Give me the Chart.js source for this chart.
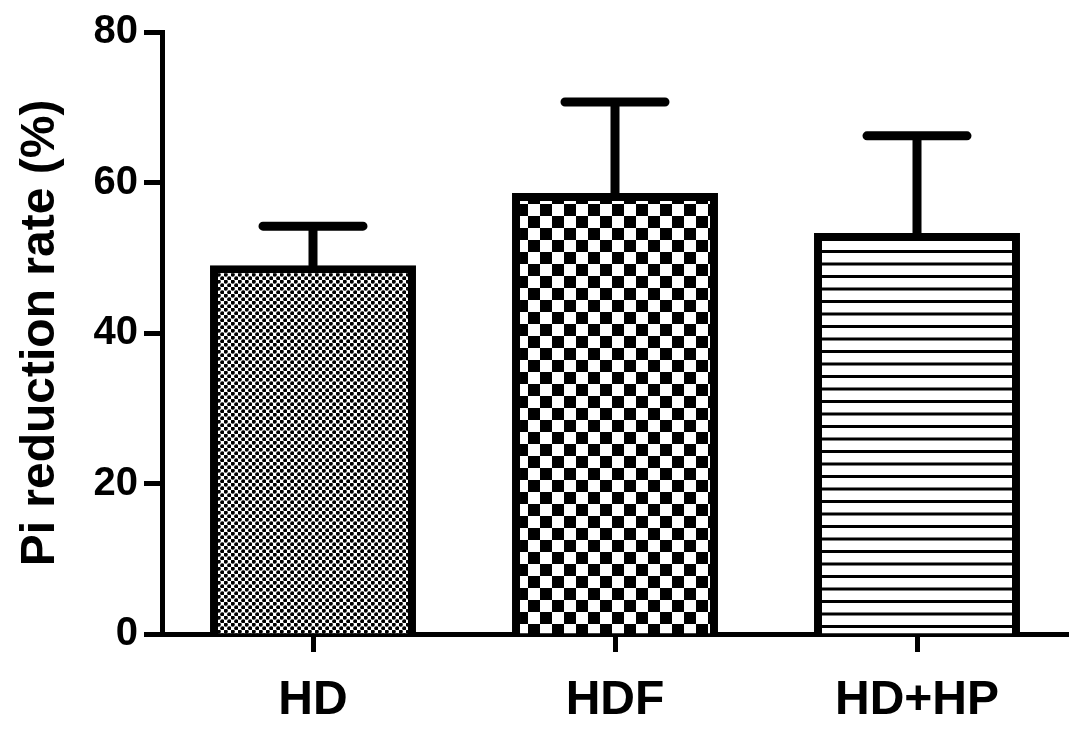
<!DOCTYPE html>
<html>
<head>
<meta charset="utf-8">
<title>Pi reduction rate</title>
<script src="https://cdn.jsdelivr.net/npm/chart.js"></script>
<style>
  html, body { margin: 0; padding: 0; background: #fff; }
  #wrap { width: 1087px; height: 746px; position: relative; }
</style>
</head>
<body>
<div id="wrap"><canvas id="pi-chart"></canvas></div>
<script>
// ---- data ----
const groups = ['HD', 'HDF', 'HD+HP'];
const meanRate = [49.0, 58.6, 53.3];   // bar height (%)
const sdRate = [5.2, 12.1, 12.9];      // upper error bar (%)
const yTicks = [0, 20, 40, 60, 80];

// ---- fill patterns (fine dots, checkerboard, horizontal stripes) ----
function tile(w, h, draw) {
    const c = document.createElement('canvas');
    c.width = w; c.height = h;
    const g = c.getContext('2d');
    g.fillStyle = '#fff';
    g.fillRect(0, 0, w, h);
    g.fillStyle = '#000';
    draw(g);
    return c;
}

function makePatterns(ctx) {
    const dots = tile(7, 7, g => {
        g.beginPath(); g.arc(1.75, 1.75, 2.1, 0, Math.PI * 2); g.fill();
        g.beginPath(); g.arc(5.25, 5.25, 2.1, 0, Math.PI * 2); g.fill();
    });
    const checker = tile(24, 24, g => {
        g.fillRect(0, 0, 12, 12);
        g.fillRect(12, 12, 12, 12);
    });
    const stripes = tile(4, 25, g => {
        g.fillRect(0, 0, 4, 3);
        g.fillRect(0, 12.5, 4, 3);
    });
    return [dots, checker, stripes].map(t => ctx.createPattern(t, 'repeat'));
}

// ---- error bars drawn from sdRate through the y scale ----
const errorBars = {
    id: 'errorBars',
    afterDatasetsDraw(chart) {
        const { ctx, scales: { y } } = chart;
        const bars = chart.getDatasetMeta(0).data;
        ctx.save();
        ctx.strokeStyle = '#000';
        ctx.lineWidth = 9;
        ctx.lineCap = 'round';
        bars.forEach((bar, i) => {
            const top = y.getPixelForValue(meanRate[i] + sdRate[i]);
            ctx.beginPath();
            ctx.moveTo(bar.x, bar.y);
            ctx.lineTo(bar.x, top);
            ctx.moveTo(bar.x - 50, top);
            ctx.lineTo(bar.x + 50, top);
            ctx.stroke();
        });
        ctx.restore();
    }
};

const canvas = document.getElementById('pi-chart');
const ctx = canvas.getContext('2d');

Chart.defaults.font.family = '"Liberation Sans", Arial, Helvetica, sans-serif';
Chart.defaults.font.weight = 'bold';
Chart.defaults.color = '#000';

new Chart(ctx, {
    type: 'bar',
    data: {
        labels: groups,
        datasets: [{
            data: meanRate,
            backgroundColor: makePatterns(ctx),
            borderColor: '#000',
            borderWidth: 8,
            barPercentage: 0.682,
            categoryPercentage: 1
        }]
    },
    options: {
        responsive: true,
        maintainAspectRatio: false,
        animation: false,
        layout: { padding: { top: 32, right: 19, left: 0, bottom: 0 } },
        plugins: {
            legend: { display: false },
            tooltip: { enabled: false }
        },
        scales: {
            x: {
                z: 1,
                offset: true,
                afterFit: s => { s.height = 112; },
                grid: {
                    offset: false,
                    drawOnChartArea: false,
                    tickLength: 18,
                    tickWidth: 5,
                    tickColor: '#000'
                },
                border: { display: true, color: '#000', width: 5 },
                ticks: { padding: 20, color: '#000', font: { size: 48, weight: 'bold' } }
            },
            y: {
                min: 0,
                max: 80,
                afterFit: s => { s.width = 162; },
                afterBuildTicks: s => { s.ticks = yTicks.map(v => ({ value: v })); },
                grid: {
                    drawOnChartArea: false,
                    tickLength: 18,
                    tickWidth: 5,
                    tickColor: '#000'
                },
                border: { display: true, color: '#000', width: 5 },
                ticks: { padding: 6, color: '#000', font: { size: 40, weight: 'bold' } },
                title: {
                    display: true,
                    text: 'Pi reduction rate (%)',
                    color: '#000',
                    padding: { top: 12, bottom: 0 },
                    font: { size: 48, weight: 'bold' }
                }
            }
        }
    },
    plugins: [errorBars]
});
</script>
</body>
</html>
